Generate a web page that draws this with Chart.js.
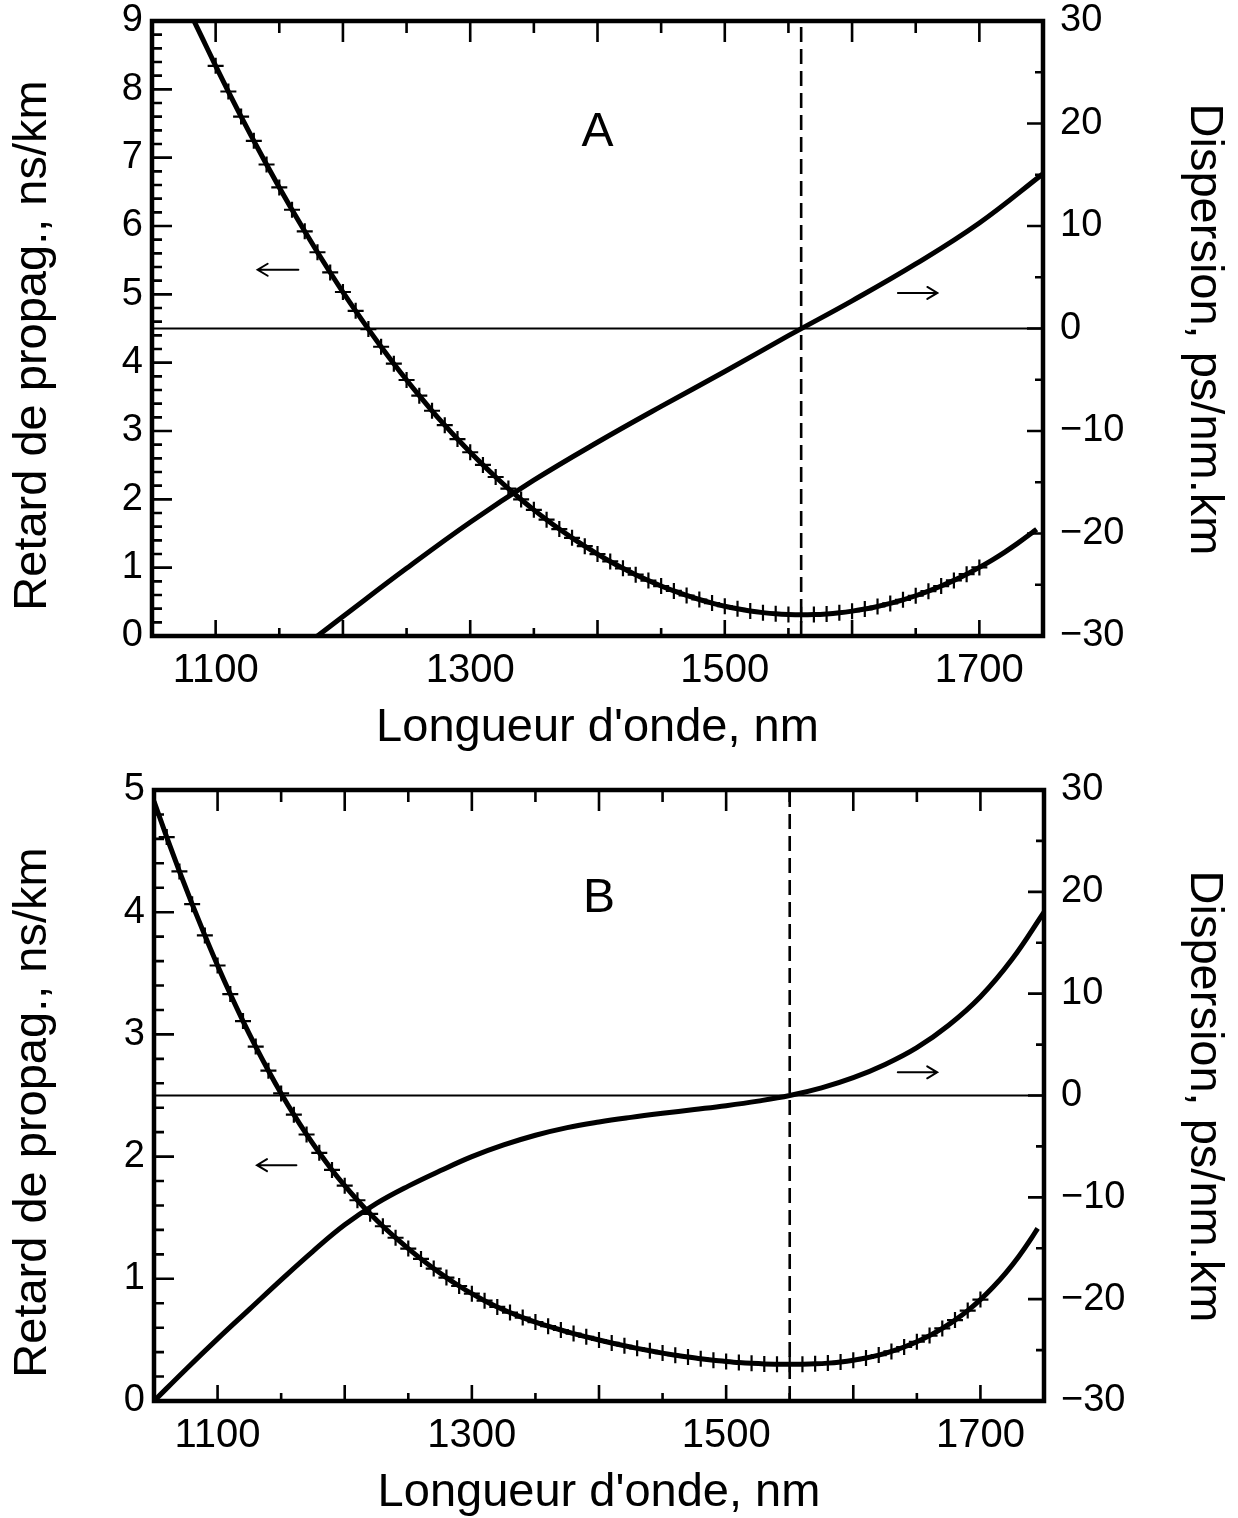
<!DOCTYPE html>
<html>
<head>
<meta charset="utf-8">
<title>Retard de propagation et dispersion</title>
<script src="https://cdn.jsdelivr.net/npm/chart.js@4/dist/chart.umd.min.js"></script>
<style>
  html, body { margin: 0; padding: 0; background: #fff; }
  #wrap { position: relative; width: 1238px; height: 1518px; }
  canvas { position: absolute; left: 0; }
</style>
</head>
<body>
<div id="wrap">
  <canvas id="panelA" width="1238" height="760" style="top:0px"></canvas>
  <canvas id="panelB" width="1238" height="758" style="top:760px"></canvas>
</div>
<script>
// ---------- Panel A : fibre standard (zero de dispersion vers 1560 nm) ----------
const wavelengthA = [1083, 1090, 1100, 1110, 1120, 1130, 1140, 1150, 1160, 1170, 1180, 1190,
  1200, 1210, 1220, 1230, 1240, 1250, 1260, 1270, 1280, 1290, 1300, 1310, 1320, 1330, 1340,
  1350, 1360, 1370, 1380, 1390, 1400, 1410, 1420, 1430, 1440, 1450, 1460, 1470, 1480, 1490,
  1500, 1510, 1520, 1530, 1540, 1550, 1560, 1570, 1580, 1590, 1600, 1610, 1620, 1630, 1640,
  1650, 1660, 1670, 1680, 1690, 1700, 1710, 1720, 1730, 1740, 1745];
const delayA = [9.000, 8.730, 8.344, 7.968, 7.602, 7.246, 6.900, 6.564, 6.238, 5.922, 5.616, 5.320,
  5.034, 4.758, 4.491, 4.233, 3.985, 3.746, 3.517, 3.296, 3.085, 2.882, 2.689, 2.504, 2.327, 2.158, 1.998,
  1.846, 1.702, 1.565, 1.436, 1.314, 1.199, 1.091, 0.991, 0.897, 0.811, 0.731, 0.659, 0.593, 0.534, 0.482,
  0.436, 0.398, 0.366, 0.342, 0.324, 0.314, 0.310, 0.313, 0.323, 0.340, 0.364, 0.394, 0.432, 0.477, 0.529,
  0.589, 0.656, 0.731, 0.814, 0.905, 1.004, 1.111, 1.228, 1.355, 1.491, 1.563];
const dispWavelengthA = [1180, 1200, 1250, 1300, 1350, 1400, 1450, 1500, 1550, 1600, 1650, 1700, 1750];
const dispersionA = [-30, -28.1, -23.4, -18.9, -14.8, -11.1, -7.6, -4.2, -0.7, 2.7, 6.3, 10.3, 15.1];
const markerRangeA = [1100, 1700];
const zeroDispersionA = 1560;

// ---------- Panel B : fibre a dispersion aplatie (zero vers 1550 nm) ----------
const wavelengthB = [1050, 1060, 1070, 1080, 1090, 1100, 1110, 1120, 1130, 1140, 1150, 1160,
  1170, 1180, 1190, 1200, 1210, 1220, 1230, 1240, 1250, 1260, 1270, 1280, 1290, 1300, 1310,
  1320, 1330, 1340, 1350, 1360, 1370, 1380, 1390, 1400, 1410, 1420, 1430, 1440, 1450, 1460,
  1470, 1480, 1490, 1500, 1510, 1520, 1530, 1540, 1550, 1560, 1570, 1580, 1590, 1600, 1610,
  1620, 1630, 1640, 1650, 1660, 1670, 1680, 1690, 1700, 1710, 1720, 1730, 1740, 1745];
const delayB = [4.908, 4.615, 4.334, 4.066, 3.810, 3.564, 3.330, 3.109, 2.900, 2.703, 2.517, 2.343,
  2.181, 2.031, 1.891, 1.762, 1.643, 1.532, 1.430, 1.336, 1.247, 1.163, 1.084, 1.010, 0.941, 0.878, 0.821,
  0.770, 0.724, 0.683, 0.646, 0.612, 0.581, 0.552, 0.525, 0.499, 0.475, 0.452, 0.431, 0.411, 0.392, 0.375,
  0.360, 0.346, 0.334, 0.324, 0.315, 0.308, 0.303, 0.301, 0.300, 0.301, 0.304, 0.310, 0.320, 0.334, 0.352,
  0.376, 0.406, 0.442, 0.485, 0.535, 0.594, 0.662, 0.740, 0.830, 0.933, 1.049, 1.181, 1.331, 1.413];
const dispWavelengthB = [1050, 1075, 1100, 1125, 1150, 1175, 1200, 1225, 1250, 1275, 1300, 1325,
  1350, 1375, 1400, 1425, 1450, 1475, 1500, 1525, 1550, 1575, 1600, 1625, 1650, 1675, 1700, 1725, 1750];
const dispersionB = [-30, -26.9, -23.9, -21.0, -18.1, -15.3, -12.7, -10.6, -8.9, -7.4, -6.0, -4.85,
  -3.9, -3.15, -2.6, -2.15, -1.75, -1.38, -1.0, -0.55, 0, 0.75, 1.75, 3.05, 4.7, 6.9, 9.7, 13.4, 18.0];
const markerRangeB = [1060, 1700];
const zeroDispersionB = 1550;

// ---------- Axes ----------
const wavelengthRange = [1050, 1750];
const wavelengthLabels = [1100, 1300, 1500, 1700];
const delayRangeA = [0, 9];
const delayRangeB = [0, 5];
const dispersionRange = [-30, 30];

// ---------- Texts ----------
const xTitle = "Longueur d'onde, nm";
const yLeftTitle = 'Retard de propag., ns/km';
const yRightTitle = 'Dispersion, ps/nm.km';

// arrows pointing to the axis each curve belongs to: [from, to, level on the delay axis]
const arrowsA = [[1165, 1133, 5.36], [1636, 1667, 5.02]];
const arrowsB = [[1162, 1131, 1.93], [1635, 1666, 2.69]];
const letterA = ['A', 1400, 7.42];
const letterB = ['B', 1400, 4.14];

const FONT = "'Liberation Sans', Arial, Helvetica, sans-serif";
Chart.defaults.color = '#000';
Chart.defaults.font.family = FONT;

function pts(xs, ys) { return xs.map((x, i) => ({ x: x, y: ys[i] })); }

function isWhole(v, step) {
  const r = v / step;
  return Math.abs(r - Math.round(r)) < 1e-6;
}

function noPadding(s) {
  s.paddingTop = 0; s.paddingBottom = 0; s.paddingLeft = 0; s.paddingRight = 0;
}

// inward tick marks, mirrored top axis and the heavy frame
const frameTicks = {
  id: 'frameTicks',
  afterDatasetsDraw(chart) {
    const { ctx, chartArea: a, scales } = chart;
    const xs = scales.x, yl = scales.yL, yr = scales.yR;
    ctx.save();
    ctx.strokeStyle = '#000';
    ctx.lineWidth = 2.6;
    ctx.beginPath();
    xs.ticks.forEach(t => {
      if (t.value <= xs.min || t.value >= xs.max) return;
      const p = xs.getPixelForValue(t.value);
      const major = isWhole(t.value, 100);
      ctx.moveTo(p, a.bottom); ctx.lineTo(p, a.bottom - (major ? 16 : 8));
      ctx.moveTo(p, a.top); ctx.lineTo(p, a.top + (major ? 21 : 12));
    });
    yl.ticks.forEach(t => {
      if (t.value <= yl.min || t.value >= yl.max) return;
      const p = yl.getPixelForValue(t.value);
      const major = isWhole(t.value, 1);
      ctx.moveTo(a.left, p); ctx.lineTo(a.left + (major ? 20 : 10), p);
    });
    yr.ticks.forEach(t => {
      if (t.value <= yr.min || t.value >= yr.max) return;
      const p = yr.getPixelForValue(t.value);
      const major = isWhole(t.value, 10);
      ctx.moveTo(a.right, p); ctx.lineTo(a.right - (major ? 16 : 8), p);
    });
    ctx.stroke();
    ctx.lineWidth = 4.5;
    ctx.strokeRect(a.left, a.top, a.right - a.left, a.bottom - a.top);
    ctx.restore();
  }
};

// axis titles, panel letter and the small direction arrows
const annotations = {
  id: 'annotations',
  afterDraw(chart, args, opts) {
    const { ctx, chartArea: a, scales } = chart;
    const xs = scales.x, yl = scales.yL;
    ctx.save();
    ctx.fillStyle = '#000';
    ctx.strokeStyle = '#000';
    const tSize = 47;
    const cap = 0.716 * tSize;
    ctx.font = tSize + 'px ' + FONT;
    ctx.textAlign = 'center';
    ctx.textBaseline = 'alphabetic';
    // x title
    ctx.fillText(xTitle, (a.left + a.right) / 2, a.bottom + 88 + cap / 2);
    // left title (reads upwards)
    const cy = (a.top + a.bottom) / 2;
    ctx.save();
    ctx.translate(12 + cap, cy + 17);
    ctx.rotate(-Math.PI / 2);
    ctx.fillText(yLeftTitle, 0, 0);
    ctx.restore();
    // right title (reads downwards)
    ctx.save();
    ctx.translate(1225 - cap, cy + 1);
    ctx.rotate(Math.PI / 2);
    ctx.fillText(yRightTitle, 0, 0);
    ctx.restore();
    // panel letter
    const L = opts.letter;
    ctx.font = '48px ' + FONT;
    ctx.fillText(L[0], xs.getPixelForValue(L[1]), yl.getPixelForValue(L[2]) + 0.716 * 48 / 2);
    // arrows
    ctx.lineWidth = 2;
    ctx.lineCap = 'round';
    opts.arrows.forEach(([from, to, lvl]) => {
      const x0 = xs.getPixelForValue(from), x1 = xs.getPixelForValue(to);
      const y = yl.getPixelForValue(lvl);
      const dir = Math.sign(x1 - x0);
      ctx.beginPath();
      ctx.moveTo(x0, y); ctx.lineTo(x1, y);
      ctx.moveTo(x1 - dir * 10, y - 6); ctx.lineTo(x1, y); ctx.lineTo(x1 - dir * 10, y + 6);
      ctx.stroke();
    });
    ctx.restore();
  }
};

function makePanel(id, p) {
  new Chart(document.getElementById(id), {
    type: 'line',
    data: {
      datasets: [
        { // zero-dispersion reference line
          data: pts(wavelengthRange, [0, 0]), yAxisID: 'yR',
          borderColor: '#000', borderWidth: 2.2, pointRadius: 0, tension: 0
        },
        { // wavelength of zero dispersion
          data: pts([p.zero, p.zero], p.delayRange), yAxisID: 'yL',
          borderColor: '#000', borderWidth: 2.6, borderDash: [15, 7], pointRadius: 0, tension: 0
        },
        { // dispersion curve
          data: pts(p.dispX, p.dispY), yAxisID: 'yR',
          borderColor: '#000', borderWidth: 5, pointRadius: 0,
          tension: 0.4
        },
        { // group delay with + markers
          data: pts(p.delayX, p.delayY), yAxisID: 'yL',
          borderColor: '#000', borderWidth: 5,
          cubicInterpolationMode: 'monotone',
          pointStyle: 'cross',
          pointRadius: c => (c.raw && c.raw.x >= p.marks[0] && c.raw.x <= p.marks[1]) ? 8 : 0,
          pointBorderColor: '#000', pointBackgroundColor: '#000', pointBorderWidth: 2.2
        }
      ]
    },
    options: {
      responsive: false,
      devicePixelRatio: 1,
      animation: false,
      events: [],
      layout: { padding: { top: p.top, left: 0, right: 0, bottom: 0 } },
      plugins: {
        legend: { display: false }, tooltip: { enabled: false },
        annotations: { arrows: p.arrows, letter: p.letter }
      },
      scales: {
        x: {
          type: 'linear', position: 'bottom',
          min: wavelengthRange[0], max: wavelengthRange[1],
          grid: { display: false, drawTicks: false }, border: { display: false },
          ticks: {
            stepSize: 50, autoSkip: false, maxRotation: 0, padding: 15,
            font: { size: 40, lineHeight: 1 },
            callback: v => wavelengthLabels.includes(v) ? String(v) : ''
          },
          afterFit: s => { s.height = p.xAxisHeight; noPadding(s); }
        },
        yL: {
          type: 'linear', position: 'left',
          min: p.delayRange[0], max: p.delayRange[1],
          grid: { display: false, drawTicks: false }, border: { display: false },
          ticks: {
            stepSize: 0.2, autoSkip: false, padding: 9,
            font: { size: 38, lineHeight: 1 },
            callback: v => isWhole(v, 1) ? String(Math.round(v)) : ''
          },
          afterFit: s => { s.width = p.left; noPadding(s); }
        },
        yR: {
          type: 'linear', position: 'right',
          min: dispersionRange[0], max: dispersionRange[1],
          grid: { display: false, drawTicks: false }, border: { display: false },
          ticks: {
            stepSize: 5, autoSkip: false, padding: 17,
            font: { size: 38, lineHeight: 1 },
            callback: v => isWhole(v, 10) ? (v < 0 ? '\u2212' + (-v) : String(v)) : ''
          },
          afterFit: s => { s.width = p.rightWidth; noPadding(s); }
        }
      }
    },
    plugins: [frameTicks, annotations]
  });
}

makePanel('panelA', {
  delayX: wavelengthA, delayY: delayA, dispX: dispWavelengthA, dispY: dispersionA,
  marks: markerRangeA, zero: zeroDispersionA, delayRange: delayRangeA,
  arrows: arrowsA, letter: letterA,
  top: 21, left: 152, rightWidth: 195, xAxisHeight: 124
});
makePanel('panelB', {
  delayX: wavelengthB, delayY: delayB, dispX: dispWavelengthB, dispY: dispersionB,
  marks: markerRangeB, zero: zeroDispersionB, delayRange: delayRangeB,
  arrows: arrowsB, letter: letterB,
  top: 30, left: 154, rightWidth: 194, xAxisHeight: 117
});
</script>
</body>
</html>
